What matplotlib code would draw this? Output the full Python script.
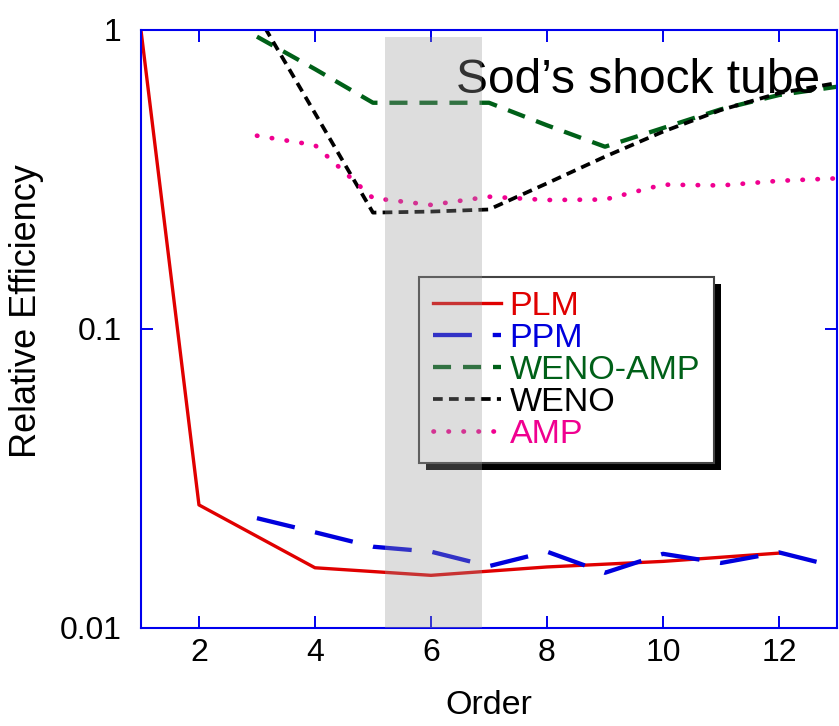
import matplotlib
matplotlib.use("Agg")
from matplotlib import pyplot as plt
from matplotlib.patches import Rectangle
import numpy as np

# values
plm_order = [1, 2, 4, 6, 8, 10, 12]
plm_eff = [1.0, 0.0258, 0.0159, 0.0150, 0.0160, 0.0167, 0.0178]

ppm_order = [3, 4, 5, 6, 7, 8, 9, 10, 11, 12, 13]
ppm_eff = [0.0233, 0.0209, 0.0187, 0.0180, 0.0161, 0.0180, 0.0153, 0.0177, 0.0165, 0.0179, 0.0160]

wenoamp_order = [3, 4, 5, 6, 7, 8, 9, 10, 11, 12, 13]
wenoamp_eff = [0.95, 0.74, 0.571, 0.571, 0.571, 0.480, 0.407, 0.470, 0.543, 0.606, 0.646]

weno_order = [3, 4, 5, 6, 7, 8, 9, 10, 11, 12, 13]
weno_eff = [1.13, 0.527, 0.245, 0.247, 0.251, 0.307, 0.377, 0.457, 0.540, 0.615, 0.665]

amp_order = [3, 4, 5, 6, 7, 8, 9, 10, 11, 12, 13]
amp_eff = [0.443, 0.412, 0.274, 0.260, 0.277, 0.270, 0.271, 0.304, 0.302, 0.313, 0.319]

x_ticks = [2, 4, 6, 8, 10, 12]
y_ticks = [0.01, 0.1, 1]
y_tick_labels = ["0.01", "0.1", "1"]

shade_range = (5.21, 6.88)

plt.rcParams["font.family"] = ["Liberation Sans", "DejaVu Sans"]
plt.rcParams["lines.scale_dashes"] = False

RED = "#e00000"
BLUE = "#0000dd"
GREEN = "#006018"
PINK = "#f00090"
AXBLUE = "#0000ee"


def main():
    fig = plt.figure(figsize=(8.39, 7.26), dpi=100)
    ax = fig.add_axes([0.168, 0.135, 0.8296, 0.8237])

    ax.plot(plm_order, plm_eff, color=RED, lw=2.4, label="PLM")
    ax.plot(ppm_order, ppm_eff, color=BLUE, lw=3.1,
            linestyle=(0, (28, 15)), label="PPM")
    ax.plot(wenoamp_order, wenoamp_eff, color=GREEN, lw=3.1,
            linestyle=(0, (13, 8.6)), label="WENO-AMP")
    ax.plot(weno_order, weno_eff, color="black", lw=2.7,
            linestyle=(0, (7, 4.5)), label="WENO")
    ax.plot(amp_order, amp_eff, color=PINK, lw=3.4, dash_capstyle="round",
            linestyle=(0, (0.3, 10.5)), label="AMP")

    ax.set_yscale("log")
    ax.set_xlim(1, 13)
    ax.set_ylim(0.01, 1)
    ax.set_xticks(x_ticks)
    ax.set_yticks(y_ticks)
    ax.set_yticklabels(y_tick_labels)
    ax.minorticks_off()
    ax.tick_params(direction="in", length=8.6, width=1.4, color=AXBLUE,
                   top=True, right=True, labelsize=23)
    ax.tick_params(axis="y", pad=14)
    ax.tick_params(axis="x", pad=7)
    for s in ax.spines.values():
        s.set_color(AXBLUE)
        s.set_linewidth(1.5)

    ax.set_xlabel("Order", fontsize=24.5, labelpad=16)
    ax.set_ylabel("Relative Efficiency", fontsize=26, labelpad=11)
    ax.yaxis.label.set_y(0.53)

    ax.text(0.9756, 0.8946, "Sod\u2019s shock tube", transform=ax.transAxes,
            ha="right", va="baseline", fontsize=34.5)

    leg = ax.legend(loc="upper left", bbox_to_anchor=(0.40, 0.587),
                    fontsize=24.5, handlelength=2.0, handletextpad=0.25,
                    labelspacing=0.03, borderpad=0.4, fancybox=False,
                    framealpha=1, borderaxespad=0)
    leg.get_frame().set_edgecolor("#444444")
    leg.get_frame().set_linewidth(1.5)
    for txt, line in zip(leg.get_texts(), leg.get_lines()):
        txt.set_color(line.get_color())
    leg.set_zorder(6)

    # black drop shadow behind the legend box
    fig.canvas.draw()
    bb = leg.get_frame().get_window_extent()
    inv = ax.transAxes.inverted()
    (x0, y0), (x1, y1) = inv.transform([[bb.x0 + 7, bb.y0 - 7], [bb.x1 + 7, bb.y1 - 7]])
    ax.add_patch(Rectangle((x0, y0), x1 - x0, y1 - y0, transform=ax.transAxes,
                           facecolor="black", edgecolor="none", zorder=5.9,
                           clip_on=False))

    # the translucent grey band sits on top of everything
    ax.axvspan(shade_range[0], shade_range[1], ymin=0, ymax=0.988,
               color="#999999", alpha=0.33, lw=0, zorder=10)

    fig.savefig("out.png", dpi=100)


if __name__ == "__main__":
    main()
